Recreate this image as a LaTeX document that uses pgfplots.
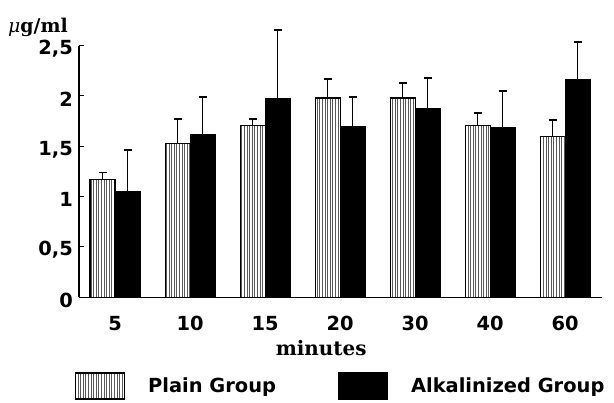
\documentclass[border=0pt]{standalone}
\usepackage{fontspec}
\usepackage{pgfplots}
\usepackage{pgfplotstable}
\pgfplotsset{compat=1.18}
\usetikzlibrary{patterns.meta}
\newfontfamily\dv{DejaVu Sans}
\newfontfamily\dvs{DejaVu Serif}

\pgfplotstableread{
x p ep a ea
0 1.17 0.07 1.05 0.41
1 1.53 0.24 1.62 0.37
2 1.71 0.06 1.97 0.69
3 1.98 0.19 1.70 0.29
4 1.98 0.15 1.88 0.30
5 1.71 0.12 1.69 0.36
6 1.60 0.16 2.16 0.38
}\data

\begin{document}
\begin{tikzpicture}
\begin{axis}[
  scale only axis, width=523bp, height=251.5bp,
  xmin=-0.48, xmax=6.49, ymin=0, ymax=2.5,
  axis x line=bottom, axis y line=left,
  axis line style={-, line width=1.1bp, black},
  clip=false,
  ybar=0pt, bar width=25bp,
  xtick={0,...,6}, xticklabels={5,10,15,20,30,40,60},
  ytick={0,0.5,1,1.5,2,2.5}, yticklabels={0,{0,5},1,{1,5},2,{2,5}},
  x tick style={draw=none},
  y tick style={line width=1bp, black},
  tick align=inside, major tick length=5bp,
  xticklabel style={font=\fontsize{19.5}{23}\selectfont\dv\bfseries, anchor=base, yshift=-33bp, inner sep=0pt},
  yticklabel style={font=\fontsize{19.5}{23}\selectfont\dv\bfseries, anchor=east, inner sep=0pt, xshift=-6bp, yshift=-3bp},
  xlabel={minutes},
  xlabel style={font=\fontsize{20}{24}\selectfont\dvs\bfseries, at={(axis description cs:0.463,-0.23)}, anchor=base, inner sep=0pt},
  ylabel={{\itshape μ}{\bfseries g/ml}},
  ylabel style={rotate=-90, font=\fontsize{19}{23}\selectfont\dvs, at={(axis description cs:-0.136,1.054)}, anchor=base west, inner sep=0pt},
  legend columns=2,
  legend style={draw=none, at={(axis description cs:-0.0076,-0.353)}, anchor=west, inner sep=0pt, outer sep=0pt,
    font=\fontsize{19.5}{23}\selectfont\dv\bfseries,
    nodes={inner sep=0pt},
    /tikz/every odd column/.append style={column sep=23bp},
    /tikz/every even column/.append style={column sep=62bp}},
]
\addplot[draw=black, line width=1.1bp,
  pattern={Lines[angle=90,distance=2.6bp,line width=0.7bp]}, pattern color=black!65,
  error bars/.cd, y dir=plus, y explicit,
  error bar style={line width=1.1bp, black},
  error mark options={rotate=90, line width=1.8bp, mark size=4bp, black}]
  table[x=x, y=p, y error=ep] {\data};
\addlegendentry{Plain Group}
\addplot[draw=black, fill=black, line width=1.1bp,
  error bars/.cd, y dir=plus, y explicit,
  error bar style={line width=1.1bp, black},
  error mark options={rotate=90, line width=1.8bp, mark size=4bp, black}]
  table[x=x, y=a, y error=ea] {\data};
\addlegendentry{Alkalinized Group}
\pgfplotsset{legend image code/.code={\draw[#1] (0bp,-13bp) rectangle (49bp,13bp);}}
\end{axis}
\pgfresetboundingbox
\path[use as bounding box] (-79bp,-105.8bp) rectangle (535bp,297.2bp);
\end{tikzpicture}
\end{document}
